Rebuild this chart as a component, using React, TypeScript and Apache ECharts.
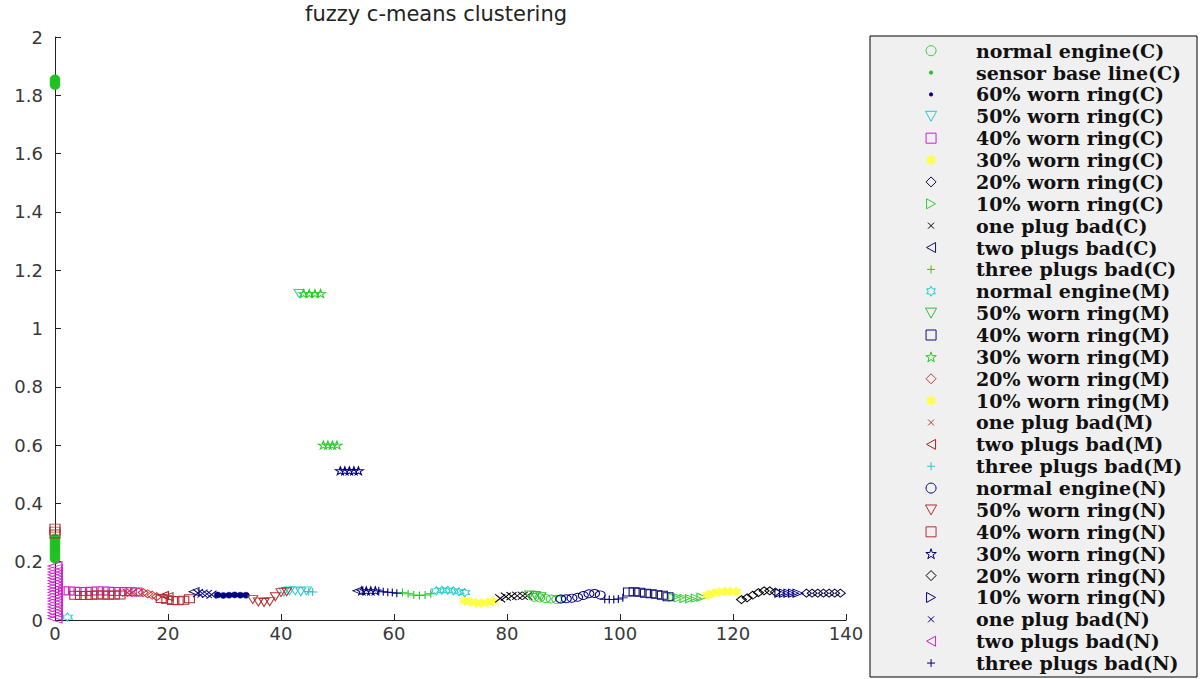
import React, { useEffect, useRef } from "react";
import * as echarts from "echarts";

const TITLE = "fuzzy c-means clustering";
const X_MIN = 0;
const X_MAX = 140;
const X_STEP = 20;
const Y_MIN = 0;
const Y_MAX = 2;
const Y_STEP = 0.2;

// ---- data: [x, y] ----
const normalEngineC = [[84.8, 0.078], [85.8, 0.076], [86.8, 0.074], [87.8, 0.072], [88.8, 0.071], [89.6, 0.072]];
const sensorBaseLineC = [[0, 1.835], [0, 1.845], [0, 1.855], [0, 0.21], [0, 0.22], [0, 0.23], [0, 0.24], [0, 0.25], [0, 0.26], [0, 0.27], [0, 0.28]];
const worn60C = [[28.8, 0.086], [29.8, 0.084], [30.8, 0.085], [31.8, 0.086], [32.8, 0.085], [33.8, 0.085]];
const worn50C = [[43.2, 1.12], [40.5, 0.096], [41.5, 0.1], [42.5, 0.1], [43.5, 0.097], [44.5, 0.1]];
const worn40C = [[1.5, 0.1], [2.5, 0.1], [3.5, 0.099], [4.5, 0.098], [5.5, 0.098], [6.5, 0.099], [7.5, 0.1], [8.5, 0.1], [9.5, 0.099], [10.5, 0.098], [11.5, 0.098], [12.5, 0.098], [13.5, 0.097], [14.5, 0.096]];
const worn30C = [[72.5, 0.066], [73.5, 0.062], [74.5, 0.059], [75.5, 0.058], [76.5, 0.06], [77.5, 0.064]];
const worn20C = [[133, 0.092], [134, 0.092], [135, 0.092], [136, 0.092], [137, 0.092], [138, 0.092], [139, 0.092]];
const worn10C = [[109.5, 0.078], [110.5, 0.076], [111.5, 0.074], [112.5, 0.073], [113.5, 0.075], [114.5, 0.078]];
const onePlugC = [[78.8, 0.074], [79.8, 0.08], [80.8, 0.082], [81.8, 0.083], [82.8, 0.083], [83.6, 0.083]];
const twoPlugsC = [[24.6, 0.097], [53.6, 0.1]];
const threePlugsC = [[61.5, 0.094], [62.5, 0.09], [63.5, 0.086], [64.5, 0.084], [65.5, 0.086], [66.5, 0.09]];
const normalEngineM = [[2.2, 0.01], [67.5, 0.1], [68.5, 0.102], [69.5, 0.102], [70.5, 0.1], [71.5, 0.097], [72.5, 0.094]];
const worn50M = [[84, 0.086], [85, 0.084], [86, 0.08]];
const worn40M = [[101.5, 0.096], [102.5, 0.097], [103.5, 0.095], [104.5, 0.092], [105.5, 0.09], [106.5, 0.088], [107.5, 0.085], [108.5, 0.08]];
const worn30M = [[44, 1.12], [45, 1.12], [46, 1.12], [47, 1.12], [47.5, 0.6], [48.3, 0.6], [49.1, 0.6], [49.9, 0.6]];
const worn20M = [[14.8, 0.096], [15.6, 0.094], [16.4, 0.09], [17.2, 0.085], [18, 0.08]];
const worn10M = [[115.5, 0.086], [116.5, 0.092], [117.5, 0.096], [118.5, 0.098], [119.5, 0.098], [120.5, 0.097]];
const onePlugM = [[12.8, 0.094], [13.6, 0.094]];
const twoPlugsM = [[19.2, 0.084], [20, 0.08]];
const threePlugsM = [[44.9, 0.098], [45.6, 0.096]];
const normalEngineN = [[89.5, 0.072], [90.5, 0.073], [91.5, 0.075], [92.5, 0.078], [93.5, 0.084], [94.5, 0.09], [95.5, 0.091], [96.5, 0.086]];
const worn50N = [[35, 0.07], [36, 0.062], [37, 0.06], [38, 0.063], [39, 0.08], [40, 0.094], [41, 0.097]];
const worn40N = [[0, 0.295], [0, 0.305], [0, 0.315], [3.5, 0.085], [4.5, 0.084], [5.5, 0.084], [6.5, 0.085], [7.5, 0.086], [8.5, 0.086], [9.5, 0.085], [10.5, 0.086], [11.5, 0.086], [18.8, 0.074], [19.8, 0.07], [20.8, 0.067], [21.8, 0.066], [22.8, 0.068], [23.8, 0.073]];
const worn30N = [[50.5, 0.512], [51.3, 0.512], [52.1, 0.512], [52.9, 0.512], [53.7, 0.512], [54.3, 0.1], [55.1, 0.1], [55.9, 0.1], [56.7, 0.1]];
const worn20N = [[121.5, 0.07], [122.5, 0.076], [123.5, 0.085], [124.5, 0.094], [125.5, 0.1], [126.5, 0.1], [127.5, 0.096]];
const worn10N = [[128.3, 0.092], [129.1, 0.092], [129.9, 0.092], [130.7, 0.092], [131.5, 0.092]];
const onePlugN = [[25.3, 0.092], [26.1, 0.091], [26.9, 0.089], [27.7, 0.087]];
const twoPlugsN = [[0, 0.005], [0, 0.015], [0, 0.025], [0, 0.035], [0, 0.045], [0, 0.055], [0, 0.065], [0, 0.075], [0, 0.085], [0, 0.095], [0, 0.105], [0, 0.115], [0, 0.125], [0, 0.135], [0, 0.145], [0, 0.155], [0, 0.165], [0, 0.175], [0, 0.185]];
const threePlugsN = [[57.3, 0.1], [58.1, 0.097], [58.9, 0.095], [59.7, 0.094], [60.5, 0.092], [97.3, 0.071], [98.1, 0.07], [98.9, 0.07], [99.7, 0.072], [100.5, 0.076]];

const SERIES_NAMES = [
  "normal engine(C)", "sensor base line(C)", "60% worn ring(C)", "50% worn ring(C)", "40% worn ring(C)",
  "30% worn ring(C)", "20% worn ring(C)", "10% worn ring(C)", "one plug bad(C)", "two plugs bad(C)",
  "three plugs bad(C)", "normal engine(M)", "50% worn ring(M)", "40% worn ring(M)", "30% worn ring(M)",
  "20% worn ring(M)", "10% worn ring(M)", "one plug bad(M)", "two plugs bad(M)", "three plugs bad(M)",
  "normal engine(N)", "50% worn ring(N)", "40% worn ring(N)", "30% worn ring(N)", "20% worn ring(N)",
  "10% worn ring(N)", "one plug bad(N)", "two plugs bad(N)", "three plugs bad(N)",
];
const SERIES_DATA = [
  normalEngineC, sensorBaseLineC, worn60C, worn50C, worn40C, worn30C, worn20C, worn10C, onePlugC, twoPlugsC,
  threePlugsC, normalEngineM, worn50M, worn40M, worn30M, worn20M, worn10M, onePlugM, twoPlugsM, threePlugsM,
  normalEngineN, worn50N, worn40N, worn30N, worn20N, worn10N, onePlugN, twoPlugsN, threePlugsN,
];

// ---- styles ----
const MARKERS: Record<string, string> = {
  o: "circle",
  ".": "circle",
  v: "path://M0,0L10,0L5,9Z",
  s: "path://M0,0L10,0L10,10L0,10Z",
  d: "path://M5,0L10,5L5,10L0,5Z",
  ">": "path://M0,0L9,5L0,10Z",
  "<": "path://M9,0L0,5L9,10Z",
  x: "path://M0,0L10,10M10,0L0,10",
  "+": "path://M5,0L5,10M0,5L10,5",
  p: "path://M5,0L6.117,3.463L9.755,3.455L6.807,5.587L7.939,9.045L5,6.9L2.061,9.045L3.193,5.587L0.245,3.455L3.883,3.463Z",
  h: "path://M5,0L6.44,2.5L9.33,2.5L7.89,5L9.33,7.5L6.44,7.5L5,10L3.56,7.5L0.67,7.5L2.11,5L0.67,2.5L3.56,2.5Z",
};
const LEGEND_MARKERS: Record<string, string> = {
  ".": "path://M0,0L0.01,0M10,10L10.01,10M3.4,5A1.6,1.6,0,1,0,6.6,5A1.6,1.6,0,1,0,3.4,5Z",
  x: "path://M0,0L0.01,0M10,10L10.01,10M2,2L8,8M8,2L2,8",
  "+": "path://M0,0L0.01,0M10,10L10.01,10M5,1L5,9M1,5L9,5",
};

type Sty = { m: string; c: string; fill?: boolean; size?: number[] };
const STYLES: Sty[] = [
  { m: "o", c: "#33cc33" },
  { m: ".", c: "#22c022", fill: true, size: [10, 9] },
  { m: ".", c: "#000080", fill: true, size: [7, 6] },
  { m: "v", c: "#22cccc" },
  { m: "s", c: "#cc22cc" },
  { m: "h", c: "#ffff44", fill: true, size: [11, 10] },
  { m: "d", c: "#0a0a40" },
  { m: ">", c: "#33cc33" },
  { m: "x", c: "#000000" },
  { m: "<", c: "#101060" },
  { m: "+", c: "#22cc22" },
  { m: "h", c: "#22cccc" },
  { m: "v", c: "#33bb33" },
  { m: "s", c: "#101070" },
  { m: "p", c: "#22cc22" },
  { m: "d", c: "#cc3333" },
  { m: "h", c: "#ffff44", fill: true, size: [11, 10] },
  { m: "x", c: "#cc3333" },
  { m: "<", c: "#b02020" },
  { m: "+", c: "#22cccc" },
  { m: "o", c: "#000080" },
  { m: "v", c: "#b03030" },
  { m: "s", c: "#b03030" },
  { m: "p", c: "#000080" },
  { m: "d", c: "#000000" },
  { m: ">", c: "#000080" },
  { m: "x", c: "#000080" },
  { m: "<", c: "#cc22cc", size: [14, 9] },
  { m: "+", c: "#000080" },
];

const LABEL_FONT = "'DejaVu Sans', 'Liberation Sans', sans-serif";

export default function App() {
  const ref = useRef<HTMLDivElement>(null);
  useEffect(() => {
    if (!ref.current) return;
    const chart = echarts.init(ref.current, undefined, { renderer: "svg" });
    const series = SERIES_NAMES.map((name, i) => {
      const s = STYLES[i];
      return {
        type: "scatter",
        name,
        data: SERIES_DATA[i],
        symbol: MARKERS[s.m],
        symbolSize: s.size || [10, 8],
        clip: false,
        silent: true,
        itemStyle: {
          color: s.fill ? s.c : "rgba(0,0,0,0)",
          borderColor: s.c,
          borderWidth: s.fill ? 0.5 : 1,
          opacity: 1,
        },
        emphasis: { disabled: true },
      };
    });
    const legendData = SERIES_NAMES.map((name, i) => {
      const s = STYLES[i];
      const icon = LEGEND_MARKERS[s.m] || MARKERS[s.m];
      return { name, icon };
    });
    const axisCommon = {
      type: "value",
      axisLine: { show: true, onZero: false, lineStyle: { color: "#222", width: 1 } },
      axisTick: { show: true, inside: true, length: 6, lineStyle: { color: "#222" } },
      axisLabel: { color: "#383838", fontSize: 18, fontFamily: LABEL_FONT },
      splitLine: { show: false },
    };
    chart.setOption({
      animation: false,
      backgroundColor: "#ffffff",
      title: {
        text: TITLE,
        left: 431,
        top: -2,
        textAlign: "center",
        textStyle: { fontFamily: LABEL_FONT, fontSize: 21, fontWeight: "normal", color: "#222" },
      },
      grid: { left: 55, right: 356, top: 37, bottom: 59, containLabel: false },
      xAxis: {
        ...axisCommon,
        min: X_MIN,
        max: X_MAX,
        interval: X_STEP,
        axisLabel: { ...axisCommon.axisLabel, margin: 4 },
      },
      yAxis: {
        ...axisCommon,
        min: Y_MIN,
        max: Y_MAX,
        interval: Y_STEP,
        axisLabel: { ...axisCommon.axisLabel, margin: 12 },
      },
      legend: {
        orient: "vertical",
        left: 925,
        top: 41.2,
        height: 660,
        padding: 0,
        itemWidth: 80,
        itemHeight: 10,
        itemGap: 2.87,
        selectedMode: false,
        itemStyle: { borderWidth: 1 },
        textStyle: {
          fontFamily: "'DejaVu Serif', 'Liberation Serif', serif",
          fontWeight: "bold",
          fontSize: 19,
          lineHeight: 19,
          color: "#111",
        },
        data: legendData,
      },
      graphic: [
        {
          type: "rect",
          z: 0,
          silent: true,
          shape: { x: 870, y: 36, width: 327, height: 641 },
          style: { fill: "#f0f0f0", stroke: "#000", lineWidth: 1 },
        },
      ],
      series,
    });
    return () => chart.dispose();
  }, []);
  return (
    <div
      ref={ref}
      style={{ position: "fixed", left: 0, top: 0, width: 1202, height: 679, background: "#fff" }}
    />
  );
}
